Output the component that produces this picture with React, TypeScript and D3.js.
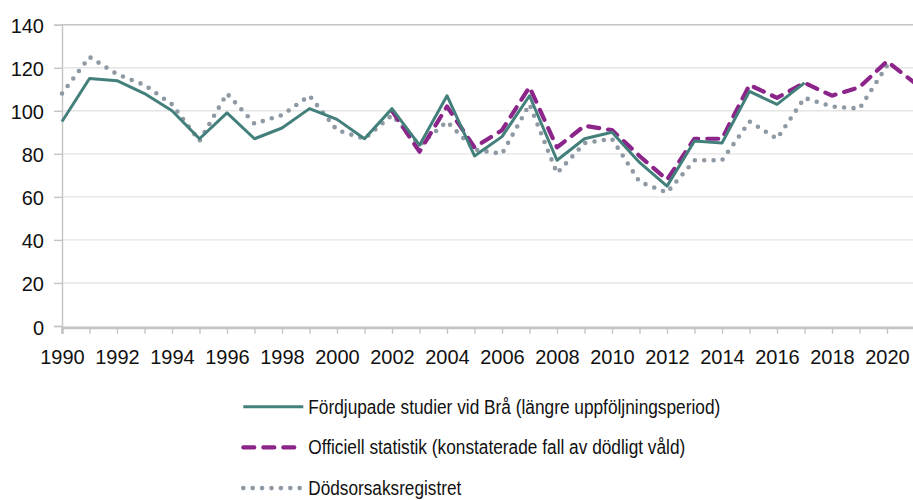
import { useEffect, useRef } from "react"
import * as d3 from "d3"

// years on the x axis
const years: number[] = d3.range(1990, 2022)
const yTicks: number[] = [0, 20, 40, 60, 80, 100, 120, 140]
const xLabelYears: number[] = d3.range(1990, 2021, 2)

// Fördjupade studier vid Brå, 1990–2017
const fordjupade: number[] = [
  95, 115, 114, 108, 100, 87, 99, 87, 92, 101, 96, 87, 101, 84, 107, 79, 88,
  107, 77, 87, 90, 76, 65, 86, 85, 109, 103, 113,
]
// Officiell statistik, 2002–2021
const officiellStart = 2002
const officiell: number[] = [
  100, 81, 102, 83, 91, 111, 83, 93, 91, 79, 68, 87, 87, 112, 106, 113, 107,
  111, 123, 113,
]
// Dödsorsaksregistret, 1990–2020
const dodsorsak: number[] = [
  108, 125, 117, 112, 103, 86, 108, 94, 98, 107, 91, 87, 98, 84, 95, 82, 80,
  103, 71, 85, 87, 67, 62, 77, 77, 95, 87, 106, 102, 101, 121,
]

const legendLabels: string[] = [
  "Fördjupade studier vid Brå (längre uppföljningsperiod)",
  "Officiell statistik (konstaterade fall av dödligt våld)",
  "Dödsorsaksregistret",
]

type Pt = { year: number; value: number }

const FONT = "'Liberation Sans', Arial, sans-serif"

export default function App() {
  const svgRef = useRef<SVGSVGElement | null>(null)

  useEffect(() => {
    if (!svgRef.current) return

    const width = 913
    const height = 500

    const svg = d3.select(svgRef.current).attr("width", width).attr("height", height)
    svg.selectAll("*").remove()

    const x = d3.scaleLinear().domain([1990, 2021]).range([62, 914.5])
    const y = d3.scaleLinear().domain([0, 140]).range([326, 24.7])

    // grid
    svg
      .append("g")
      .selectAll("line")
      .data(yTicks.filter(d => d > 0))
      .join("line")
      .attr("x1", 62)
      .attr("x2", width)
      .attr("y1", d => y(d))
      .attr("y2", d => y(d))
      .attr("stroke", d => (d === 140 ? "#c4c4c4" : "#e4e4e4"))
      .attr("stroke-width", 1.4)

    // Y axis
    const yAxis = svg
      .append("g")
      .attr("transform", "translate(62,0)")
      .call(d3.axisLeft(y).tickValues(yTicks).tickSize(8).tickPadding(10))
    yAxis.select(".domain").attr("stroke", "#c4c4c4").attr("stroke-width", 1.4)
    yAxis.selectAll(".tick line").attr("stroke", "#c4c4c4").attr("stroke-width", 1.4)
    yAxis
      .selectAll(".tick text")
      .attr("font-family", FONT)
      .attr("font-size", 20)
      .attr("fill", "#111")
      .attr("dy", "0.4em")

    // X axis
    const xAxis = svg
      .append("g")
      .attr("transform", "translate(0,327.3)")
      .call(
        d3
          .axisBottom(x)
          .tickValues(years)
          .tickSize(6.5)
          .tickPadding(16.5)
          .tickFormat(d => (xLabelYears.includes(+d) ? String(d) : ""))
      )
    xAxis.select(".domain").attr("stroke", "#c4c4c4").attr("stroke-width", 2.7)
    xAxis.selectAll(".tick line").attr("stroke", "#c4c4c4").attr("stroke-width", 1.4)
    xAxis
      .selectAll(".tick text")
      .attr("font-family", FONT)
      .attr("font-size", 20)
      .attr("fill", "#111")

    const line = d3
      .line<Pt>()
      .x(d => x(d.year))
      .y(d => y(d.value))

    const toPts = (vals: number[], start: number): Pt[] =>
      vals.map((v, i) => ({ year: start + i, value: v }))

    const styles = [
      { color: "#43807b", width: 3, dash: null as string | null, cap: "butt" },
      { color: "#8c2589", width: 4.2, dash: "11 9", cap: "round" },
      { color: "#8e99a4", width: 4.6, dash: "0 9.4", cap: "round" },
    ]
    const series = [
      toPts(dodsorsak, 1990),
      toPts(officiell, officiellStart),
      toPts(fordjupade, 1990),
    ]
    const order = [2, 1, 0]

    // draw dotted first, then dashed, solid on top
    series.forEach((pts, i) => {
      const s = styles[order[i]]
      svg
        .append("path")
        .datum(pts)
        .attr("fill", "none")
        .attr("stroke", s.color)
        .attr("stroke-width", s.width)
        .attr("stroke-linecap", s.cap)
        .attr("stroke-linejoin", "round")
        .attr("stroke-dasharray", s.dash)
        .attr("d", line)
    })

    // legend
    const legendWidths = [412, 377, 153]
    const legend = svg
      .append("g")
      .selectAll("g")
      .data(legendLabels)
      .join("g")
      .attr("transform", (_, i) => `translate(0,${406.7 + i * 40.7})`)

    legend
      .append("line")
      .attr("x1", 243.3)
      .attr("x2", (_, i) => (i === 0 ? 303.3 : 301))
      .attr("y1", 0)
      .attr("y2", 0)
      .attr("stroke", (_, i) => styles[i].color)
      .attr("stroke-width", (_, i) => styles[i].width)
      .attr("stroke-linecap", (_, i) => styles[i].cap)
      .attr("stroke-dasharray", (_, i) => styles[i].dash)

    legend
      .append("text")
      .attr("x", 308.3)
      .attr("y", 6.8)
      .attr("font-family", FONT)
      .attr("font-size", 19.5)
      .attr("fill", "#111")
      .attr("textLength", (_, i) => legendWidths[i])
      .attr("lengthAdjust", "spacingAndGlyphs")
      .text(d => d)
  }, [])

  return (
    <div style={{ position: "absolute", left: 0, top: 0, background: "#fff" }}>
      <svg ref={svgRef} style={{ display: "block" }} />
    </div>
  )
}
